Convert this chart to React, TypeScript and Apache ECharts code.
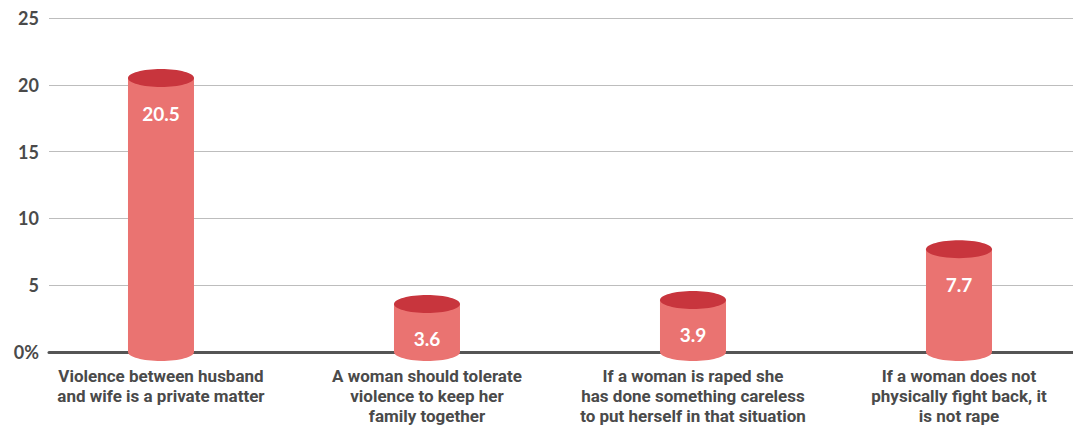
import React, { useEffect, useRef } from "react";
import * as echarts from "echarts";

const categories: string[] = [
  "Violence between husband\nand wife is a private matter",
  "A woman should tolerate\nviolence to keep her\nfamily together",
  "If a woman is raped she\nhas done something careless\nto put herself in that situation",
  "If a woman does not\nphysically fight back, it\nis not rape",
];
const values: number[] = [20.5, 3.6, 3.9, 7.7];
const yTicks: number[] = [0, 5, 10, 15, 20, 25];

const BODY = "#EA7371";
const TOP = "#C8353D";
const TEXT = "#4a4a4a";
const FONT = "Lato, 'Open Sans', sans-serif";
const LABEL_FONT = "Roboto, Lato, sans-serif";

export default function App() {
  const ref = useRef<HTMLDivElement>(null);
  useEffect(() => {
    if (!ref.current) return;
    const chart = echarts.init(ref.current, undefined, { renderer: "svg" });
    const idx = categories.map((_, i) => i);
    const option: any = {
      animation: false,
      grid: { left: 49, right: 0, top: 18, bottom: 77 },
      xAxis: {
        type: "value",
        min: -0.421,
        max: 3.4286,
        axisLine: { show: true, onZero: false, lineStyle: { color: "#555555", width: 3 } },
        axisTick: { show: false },
        splitLine: { show: false },
        axisLabel: {
          customValues: idx,
          margin: 14,
          color: TEXT,
          fontFamily: LABEL_FONT,
          fontWeight: "bold",
          fontSize: 17,
          lineHeight: 20,
          align: "center",
          formatter: (v: number) => categories[Math.round(v)] ?? "",
        },
      },
      yAxis: {
        type: "value",
        min: yTicks[0],
        max: yTicks[yTicks.length - 1],
        interval: 5,
        axisLine: { show: false },
        axisTick: { show: false },
        splitLine: { lineStyle: { color: "#bdbdbd", width: 1 } },
        axisLabel: {
          margin: 10,
          color: TEXT,
          fontFamily: FONT,
          fontWeight: "bold",
          fontSize: 18,
          formatter: (v: number) => (v === 0 ? "0%" : String(v)),
        },
      },
      series: [
        {
          type: "custom",
          z: 5,
          data: values.map((v, i) => [i, v]),
          renderItem: (params: any, api: any) => {
            const x = api.value(0);
            const v = api.value(1);
            const top = api.coord([x, v]);
            const base = api.coord([x, 0]);
            const w = 66;
            const ry = 9;
            return {
              type: "group",
              children: [
                {
                  type: "ellipse",
                  shape: { cx: base[0], cy: base[1], rx: w / 2, ry },
                  style: { fill: BODY },
                },
                {
                  type: "rect",
                  shape: { x: top[0] - w / 2, y: top[1], width: w, height: base[1] - top[1] },
                  style: { fill: BODY },
                },
                {
                  type: "ellipse",
                  shape: { cx: top[0], cy: top[1], rx: w / 2, ry },
                  style: { fill: TOP },
                },
                {
                  type: "text",
                  style: {
                    text: v.toFixed(1),
                    x: top[0],
                    y: top[1] + 35,
                    fill: "#ffffff",
                    font: `bold 19px ${FONT}`,
                    align: "center",
                    verticalAlign: "middle",
                  },
                },
              ],
            };
          },
        },
      ],
    };
    chart.setOption(option);
    return () => chart.dispose();
  }, []);
  return (
    <div
      ref={ref}
      style={{ position: "fixed", left: 0, top: 0, width: 1073, height: 429, background: "#ffffff" }}
    />
  );
}
